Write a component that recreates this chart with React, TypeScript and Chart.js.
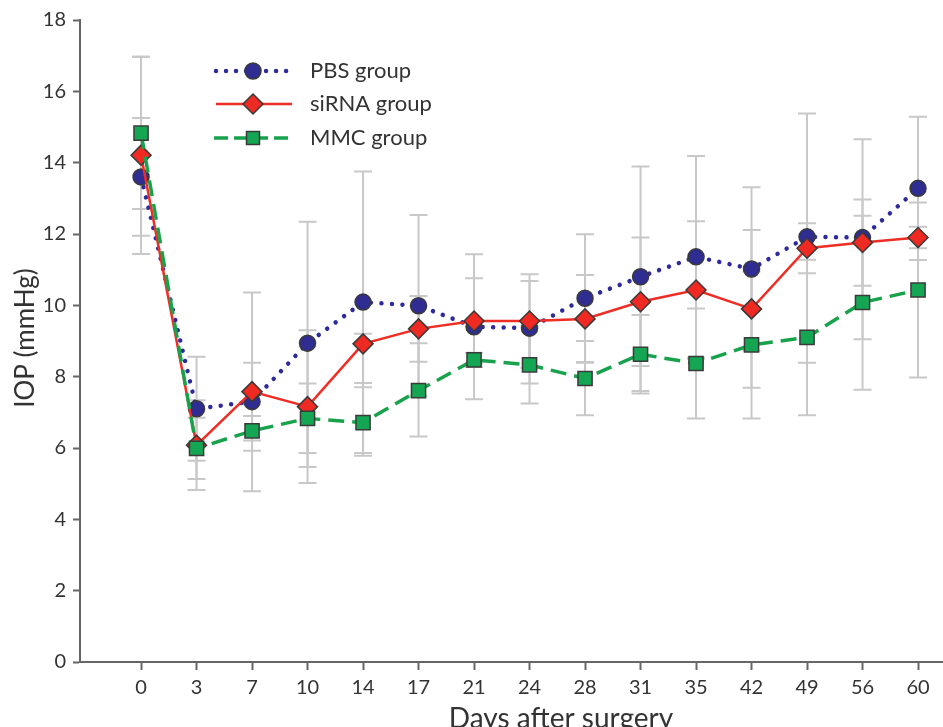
import React, { useEffect, useRef } from 'react';
import { Chart, registerables } from 'chart.js';

Chart.register(...registerables);

const days = ['0', '3', '7', '10', '14', '17', '21', '24', '28', '31', '35', '42', '49', '56', '60'];

const pbsMean = [13.6, 7.1, 7.3, 8.94, 10.09, 9.99, 9.4, 9.36, 10.2, 10.8, 11.36, 11.02, 11.92, 11.9, 13.28];
const pbsHigh = [15.25, 8.56, 8.39, 12.34, 13.75, 12.53, 11.43, 10.68, 11.99, 13.89, 14.19, 13.31, 15.38, 14.66, 15.29];
const pbsLow = [11.95, 5.64, 6.21, 5.47, 7.82, 7.45, 7.37, 7.81, 8.41, 7.6, 8.53, 8.73, 8.39, 9.05, 11.27];

const sirnaMean = [14.21, 6.08, 7.58, 7.16, 8.92, 9.34, 9.56, 9.56, 9.62, 10.1, 10.43, 9.9, 11.6, 11.76, 11.9];
const sirnaHigh = [16.97, 7.34, 10.36, 9.3, 9.2, 10.26, 10.76, 10.87, 10.85, 11.9, 12.36, 12.11, 12.3, 12.97, 12.2];
const sirnaLow = [11.44, 4.82, 4.79, 5.02, 5.86, 8.42, 8.36, 8.25, 8.39, 8.3, 8.5, 7.69, 10.9, 10.55, 11.6];

const mmcMean = [14.83, 5.99, 6.48, 6.83, 6.71, 7.61, 8.47, 8.33, 7.95, 8.63, 8.37, 8.89, 9.1, 10.08, 10.43];
const mmcHigh = [16.97, 6.85, 6.9, 7.81, 7.7, 8.94, 8.67, 9.41, 9.0, 9.73, 9.91, 10.95, 11.28, 12.51, 12.88];
const mmcLow = [12.7, 5.13, 5.92, 5.86, 5.78, 6.32, 8.27, 7.25, 6.92, 7.53, 6.83, 6.83, 6.92, 7.63, 7.98];

const yTicks = [0, 2, 4, 6, 8, 10, 12, 14, 16, 18];

const seriesNames = ['PBS group', 'siRNA group', 'MMC group'];

const FONT = 'Lato, "Open Sans", sans-serif';

const COLORS = {
  pbsLine: '#2d2b9c',
  pbsFill: '#2f2c92',
  redLine: '#ee2d24',
  redFill: '#ee2a22',
  greenLine: '#17a24b',
  greenFill: '#14a653',
  markerBorder: '#3a3a3a',
  err: '#c8c8c8',
  axis: '#666666',
  text: '#333333',
};

const toPts = (arr: number[]) => arr.map((v, i) => ({ x: i, y: v }));

const errorBarPlugin = {
  id: 'errorBars',
  beforeDatasetsDraw(chart: any) {
    const { ctx, scales } = chart;
    const xs = scales.x;
    const ys = scales.y;
    const groups = [
      [pbsLow, pbsHigh],
      [sirnaLow, sirnaHigh],
      [mmcLow, mmcHigh],
    ];
    ctx.save();
    ctx.strokeStyle = COLORS.err;
    ctx.lineWidth = 2;
    groups.forEach(([lo, hi]) => {
      lo.forEach((l, i) => {
        const x = xs.getPixelForValue(i);
        const y1 = ys.getPixelForValue(l);
        const y2 = ys.getPixelForValue(hi[i]);
        ctx.beginPath();
        ctx.moveTo(x, y1);
        ctx.lineTo(x, y2);
        ctx.moveTo(x - 9, y1);
        ctx.lineTo(x + 9, y1);
        ctx.moveTo(x - 9, y2);
        ctx.lineTo(x + 9, y2);
        ctx.stroke();
      });
    });
    ctx.restore();
  },
};

function drawMarker(ctx: CanvasRenderingContext2D, kind: string, x: number, y: number, fill: string) {
  ctx.save();
  ctx.fillStyle = fill;
  ctx.strokeStyle = COLORS.markerBorder;
  ctx.lineWidth = 1.5;
  ctx.setLineDash([]);
  ctx.beginPath();
  if (kind === 'circle') {
    ctx.arc(x, y, 8, 0, Math.PI * 2);
  } else if (kind === 'diamond') {
    ctx.moveTo(x, y - 10);
    ctx.lineTo(x + 10, y);
    ctx.lineTo(x, y + 10);
    ctx.lineTo(x - 10, y);
    ctx.closePath();
  } else {
    ctx.rect(x - 6.5, y - 6.5, 13, 13);
  }
  ctx.fill();
  ctx.stroke();
  ctx.restore();
}

const legendTitlePlugin = {
  id: 'legendTitles',
  afterDraw(chart: any) {
    const { ctx } = chart;
    const rows = [
      { y: 71, color: COLORS.pbsLine, dash: [0.01, 10], width: 4.5, cap: 'round', kind: 'circle', fill: COLORS.pbsFill },
      { y: 104, color: COLORS.redLine, dash: [], width: 2.5, cap: 'butt', kind: 'diamond', fill: COLORS.redFill },
      { y: 138, color: COLORS.greenLine, dash: [14, 6], width: 3.5, cap: 'butt', kind: 'square', fill: COLORS.greenFill },
    ];
    rows.forEach((r, i) => {
      ctx.save();
      ctx.strokeStyle = r.color;
      ctx.lineWidth = r.width;
      ctx.lineCap = r.cap;
      ctx.setLineDash(r.dash);
      ctx.beginPath();
      if (r.kind === 'square') {
        ctx.moveTo(214, r.y);
        ctx.lineTo(290, r.y);
      } else {
        ctx.moveTo(216, r.y);
        ctx.lineTo(292, r.y);
      }
      ctx.stroke();
      ctx.restore();
      drawMarker(ctx, r.kind, 253, r.y, r.fill);
      ctx.save();
      ctx.fillStyle = COLORS.text;
      ctx.font = `22px ${FONT}`;
      ctx.textBaseline = 'middle';
      ctx.textAlign = 'left';
      ctx.fillText(seriesNames[i], 310, r.y);
      ctx.restore();
    });

    ctx.save();
    ctx.fillStyle = COLORS.text;
    ctx.font = `28px ${FONT}`;
    ctx.textAlign = 'center';
    ctx.textBaseline = 'middle';
    ctx.fillText('Days after surgery', 561, 719);
    ctx.translate(26, 338);
    ctx.rotate(-Math.PI / 2);
    ctx.font = `26px ${FONT}`;
    ctx.fillText('IOP (mmHg)', 0, 0);
    ctx.restore();
  },
};

export default function App() {
  const ref = useRef<HTMLCanvasElement | null>(null);

  useEffect(() => {
    if (!ref.current) return;
    const chart = new Chart(ref.current, {
      type: 'line',
      data: {
        datasets: [
          {
            label: seriesNames[0],
            data: toPts(pbsMean),
            borderColor: COLORS.pbsLine,
            borderWidth: 4.5,
            borderDash: [0.01, 10.5],
            borderCapStyle: 'round',
            pointStyle: 'circle',
            pointRadius: 8,
            pointBackgroundColor: COLORS.pbsFill,
            pointBorderColor: COLORS.markerBorder,
            pointBorderWidth: 1.5,
            order: 3,
          },
          {
            label: seriesNames[1],
            data: toPts(sirnaMean),
            borderColor: COLORS.redLine,
            borderWidth: 2.5,
            pointStyle: 'rectRot',
            pointRadius: 10,
            pointBackgroundColor: COLORS.redFill,
            pointBorderColor: COLORS.markerBorder,
            pointBorderWidth: 1.5,
            order: 2,
          },
          {
            label: seriesNames[2],
            data: toPts(mmcMean),
            borderColor: COLORS.greenLine,
            borderWidth: 3.5,
            borderDash: [16, 8],
            pointStyle: 'rect',
            pointRadius: 10,
            pointBackgroundColor: COLORS.greenFill,
            pointBorderColor: COLORS.markerBorder,
            pointBorderWidth: 1.5,
            order: 1,
          },
        ],
      } as any,
      options: {
        animation: false,
        responsive: true,
        maintainAspectRatio: false,
        layout: { autoPadding: false, padding: { top: 20, right: 0, left: 0, bottom: 0 } },
        plugins: {
          legend: { display: false },
          tooltip: { enabled: false },
        },
        scales: {
          x: {
            type: 'linear',
            min: -1.1,
            max: 14.45,
            afterBuildTicks: (axis: any) => {
              axis.ticks = days.map((_, i) => ({ value: i }));
            },
            afterFit: (axis: any) => {
              axis.height = 65;
              axis.paddingRight = 0;
              axis.paddingLeft = 0;
            },
            ticks: {
              callback: (v: any) => days[v] ?? '',
              font: { family: FONT, size: 20 },
              color: COLORS.text,
              padding: 6,
              autoSkip: false,
              maxRotation: 0,
            },
            grid: {
              drawOnChartArea: false,
              drawTicks: true,
              tickLength: 8,
              tickWidth: 2,
              tickColor: COLORS.axis,
            },
            border: { display: true, color: COLORS.axis, width: 2 },
          },
          y: {
            min: 0,
            max: 18,
            afterBuildTicks: (axis: any) => {
              axis.ticks = yTicks.map((v) => ({ value: v }));
            },
            afterFit: (axis: any) => {
              axis.width = 80;
            },
            ticks: {
              font: { family: FONT, size: 20 },
              color: COLORS.text,
              padding: 7,
            },
            grid: {
              drawOnChartArea: false,
              drawTicks: true,
              tickLength: 7,
              tickWidth: 2,
              tickColor: COLORS.axis,
            },
            border: { display: true, color: COLORS.axis, width: 2 },
          },
        },
      } as any,
      plugins: [errorBarPlugin, legendTitlePlugin],
    });
    return () => chart.destroy();
  }, []);

  return (
    <div style={{ position: 'fixed', left: 0, top: 0, width: 943, height: 727, background: '#fff' }}>
      <canvas ref={ref} />
    </div>
  );
}
